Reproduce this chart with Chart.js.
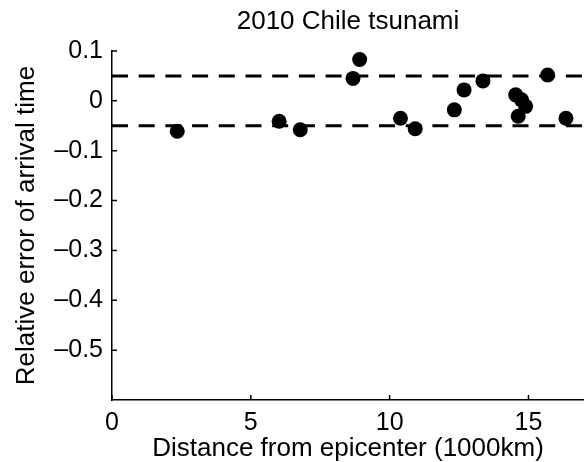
<!DOCTYPE html>
<html>
<head>
<meta charset="utf-8">
<title>2010 Chile tsunami</title>
<script src="https://cdn.jsdelivr.net/npm/chart.js@4.4.1/dist/chart.umd.min.js"></script>
<style>
  html, body { margin: 0; padding: 0; background: #fff; }
  canvas { display: block; }
</style>
</head>
<body>
<canvas id="tsunami" width="584" height="462"></canvas>
<script>
// station distance from the epicentre (1000 km) and relative arrival-time error
const distance = [2.35, 6.02, 6.78, 8.68, 8.92, 10.39, 10.92, 12.33, 12.68, 13.36, 14.54, 14.75, 14.90, 14.63, 15.69, 16.35];
const relError = [-0.061, -0.041, -0.058, 0.045, 0.083, -0.035, -0.056, -0.018, 0.022, 0.040, 0.012, 0.002, -0.011, -0.031, 0.052, -0.035];

// +/- 5% tolerance band
const toleranceLines = [0.05, -0.05];

const xTicks = [0, 5, 10, 15];
const yTicks = [0.1, 0, -0.1, -0.2, -0.3, -0.4, -0.5];
const xRange = [0, 17];
const yRange = [-0.6, 0.1];

const FONT = "'Liberation Sans', Arial, Helvetica, sans-serif";

const points = distance.map((d, i) => ({ x: d, y: relError[i] }));

const bandSets = toleranceLines.map(v => ({
  type: 'line',
  data: [{ x: xRange[0], y: v }, { x: xRange[1], y: v }],
  borderColor: '#000',
  borderWidth: 3,
  borderDash: [16, 10.7],
  pointRadius: 0,
  fill: false
}));

// short tick marks pointing into the plot
const inwardTicks = {
  id: 'inwardTicks',
  afterDraw(chart) {
    const { ctx, chartArea, scales: { x, y } } = chart;
    ctx.save();
    ctx.strokeStyle = '#000';
    ctx.lineWidth = 1.5;
    ctx.beginPath();
    x.ticks.forEach(t => {
      const px = x.getPixelForValue(t.value);
      ctx.moveTo(px, chartArea.bottom);
      ctx.lineTo(px, chartArea.bottom - 5);
    });
    y.ticks.forEach(t => {
      const py = y.getPixelForValue(t.value);
      ctx.moveTo(chartArea.left, py);
      ctx.lineTo(chartArea.left + 5, py);
    });
    ctx.stroke();
    ctx.restore();
  }
};

const fmt = v => (v < 0 ? '\u2013' + Math.abs(v) : String(v));

new Chart(document.getElementById('tsunami'), {
  type: 'scatter',
  data: {
    datasets: [
      {
        data: points,
        backgroundColor: '#000',
        borderWidth: 0,
        pointRadius: 7.5,
        pointHoverRadius: 7.5
      },
      ...bandSets
    ]
  },
  options: {
    responsive: false,
    animation: false,
    devicePixelRatio: 1,
    // no extra room for point overflow: the x axis runs to the canvas edge
    layout: { padding: 0, autoPadding: false },
    plugins: {
      legend: { display: false },
      tooltip: { enabled: false },
      title: {
        display: true,
        fullSize: false,
        text: '2010 Chile tsunami',
        color: '#000',
        font: { family: FONT, size: 26, weight: 'normal', lineHeight: 1.2 },
        padding: { top: 6, bottom: 13.8 }
      }
    },
    scales: {
      x: {
        type: 'linear',
        min: xRange[0],
        max: xRange[1],
        afterBuildTicks: s => { s.ticks = xTicks.map(v => ({ value: v })); },
        afterFit: s => { s.height = 62; },
        grid: { display: false, drawTicks: false },
        border: { display: true, color: '#000', width: 1.5 },
        ticks: {
          color: '#000',
          padding: 8,
          maxRotation: 0,
          font: { family: FONT, size: 25 },
          callback: fmt
        },
        title: {
          display: true,
          text: 'Distance from epicenter (1000km)',
          color: '#000',
          font: { family: FONT, size: 26, lineHeight: 1 },
          padding: { top: 0, bottom: 0 }
        }
      },
      y: {
        type: 'linear',
        min: yRange[0],
        max: yRange[1],
        afterBuildTicks: s => { s.ticks = yTicks.map(v => ({ value: v })); },
        afterFit: s => { s.width = 112; },
        grid: { display: false, drawTicks: false },
        border: { display: true, color: '#000', width: 1.5 },
        ticks: {
          color: '#000',
          padding: 9,
          font: { family: FONT, size: 25 },
          callback: fmt
        },
        title: {
          display: true,
          text: 'Relative error of arrival time',
          color: '#000',
          font: { family: FONT, size: 26, lineHeight: 1 },
          padding: { top: 14, bottom: 0 }
        }
      }
    }
  },
  plugins: [inwardTicks]
});
</script>
</body>
</html>
